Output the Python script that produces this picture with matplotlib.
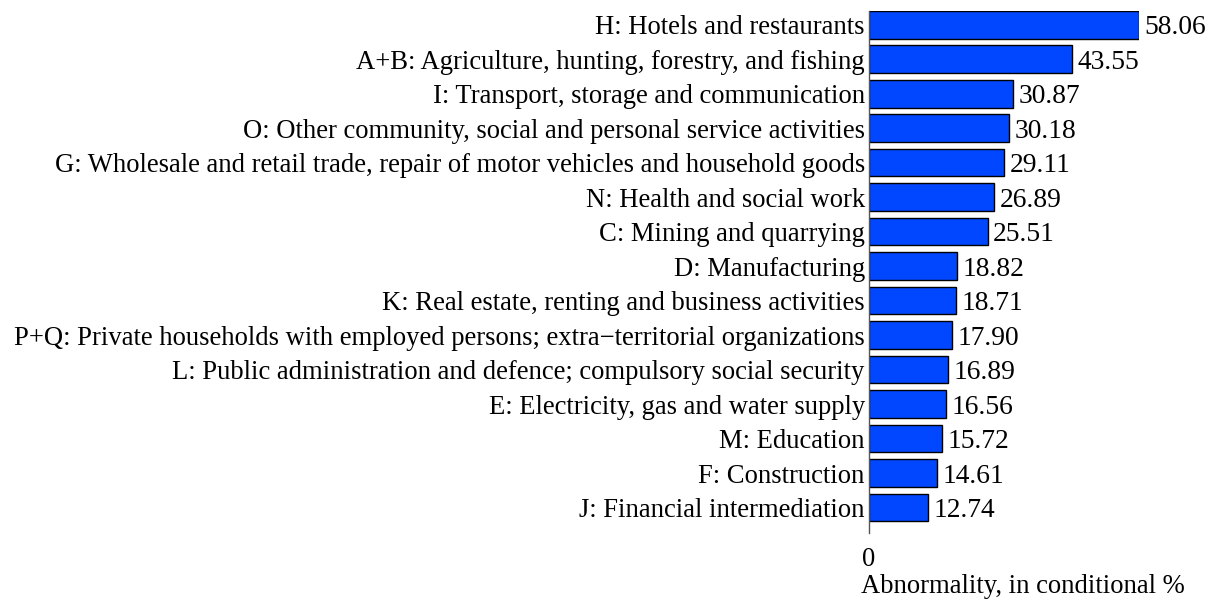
import matplotlib
matplotlib.use('Agg')
import matplotlib.pyplot as plt

plt.rcParams['font.family'] = ['Liberation Serif', 'DejaVu Serif']

# sectors, top to bottom
sectors = [
    'H: Hotels and restaurants',
    'A+B: Agriculture, hunting, forestry, and fishing',
    'I: Transport, storage and communication',
    'O: Other community, social and personal service activities',
    'G: Wholesale and retail trade, repair of motor vehicles and household goods',
    'N: Health and social work',
    'C: Mining and quarrying',
    'D: Manufacturing',
    'K: Real estate, renting and business activities',
    'P+Q: Private households with employed persons; extra\u2212territorial organizations',
    'L: Public administration and defence; compulsory social security',
    'E: Electricity, gas and water supply',
    'M: Education',
    'F: Construction',
    'J: Financial intermediation',
]
values = [58.06, 43.55, 30.87, 30.18, 29.11, 26.89, 25.51, 18.82, 18.71,
          17.90, 16.89, 16.56, 15.72, 14.61, 12.74]

fs = 19.2

fig = plt.figure(figsize=(12.1, 6), dpi=100)
# axes placed so that x=0 sits at the vertical line and 58.06 at the longest bar end
ax = fig.add_axes([869 / 1210, 1 - 533 / 600, (1139 - 869) / 1210, (533 - 11) / 600])

pos = list(range(len(sectors)))
ax.barh(pos, values, height=0.8, color='#0047ff', edgecolor='black', linewidth=1.0)

ax.set_xlim(0, max(values))
ax.set_ylim(len(sectors) - 1 + 0.74, -0.4)

for p, v in zip(pos, values):
    ax.text(v + 1.2, p, f'{v:.2f}', va='center_baseline', ha='left', fontsize=19.8, clip_on=False)

ax.set_yticks(pos)
ax.set_yticklabels(sectors, fontsize=fs, va='center_baseline')
ax.tick_params(axis='y', length=0, pad=3)
ax.set_xticks([0])
ax.set_xticklabels(['0'], fontsize=fs)
ax.tick_params(axis='x', length=0, pad=10)

for side in ['top', 'right', 'bottom']:
    ax.spines[side].set_visible(False)
ax.spines['left'].set_color('#555555')
ax.spines['left'].set_linewidth(1.0)

ax.set_xlabel('Abnormality, in conditional %', fontsize=fs, ha='left')
ax.xaxis.set_label_coords(-0.03, -0.078)
ax.xaxis.label.set_va('top')

fig.savefig('out.png', dpi=100)
